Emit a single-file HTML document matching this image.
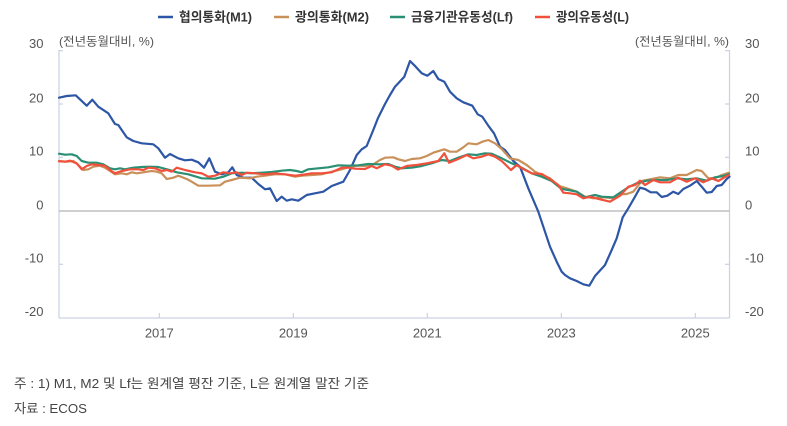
<!DOCTYPE html>
<html><head><meta charset="utf-8"><style>
html,body{margin:0;padding:0;background:#fff;}
svg{display:block;}
text{font-family:"Liberation Sans","Noto Sans CJK KR",sans-serif;}
</style></head><body>
<svg width="787" height="426" viewBox="0 0 787 426" xmlns="http://www.w3.org/2000/svg">
<rect width="787" height="426" fill="#fff"/>
<!-- legend -->
<g font-size="13" font-weight="bold" fill="#333">
<line x1="158" y1="17" x2="173" y2="17" stroke="#2d56a6" stroke-width="2.5"/>
<text x="179" y="21.5" textLength="73" lengthAdjust="spacingAndGlyphs">협의통화(M1)</text>
<line x1="274" y1="17" x2="289" y2="17" stroke="#c9905a" stroke-width="2.5"/>
<text x="295" y="21.5" textLength="74" lengthAdjust="spacingAndGlyphs">광의통화(M2)</text>
<line x1="390" y1="17" x2="405" y2="17" stroke="#2a8f73" stroke-width="2.5"/>
<text x="411" y="21.5" textLength="102" lengthAdjust="spacingAndGlyphs">금융기관유동성(Lf)</text>
<line x1="535" y1="17" x2="550" y2="17" stroke="#f0503c" stroke-width="2.5"/>
<text x="556" y="21.5" textLength="73" lengthAdjust="spacingAndGlyphs">광의유동성(L)</text>
</g>
<!-- unit labels -->
<g font-size="12" fill="#555">
<text x="59" y="45.5" textLength="95" lengthAdjust="spacingAndGlyphs">(전년동월대비, %)</text>
<text x="635" y="45.5" textLength="94" lengthAdjust="spacingAndGlyphs">(전년동월대비, %)</text>
</g>
<!-- axes -->
<g stroke="#c9d2e3" stroke-width="1.2" fill="none">
<line x1="59" y1="50" x2="59" y2="318"/>
<line x1="729.5" y1="50" x2="729.5" y2="318"/>
<line x1="59" y1="318" x2="729.5" y2="318"/>
<line x1="59" y1="50.7" x2="63" y2="50.7"/>
<line x1="59" y1="104" x2="63" y2="104"/>
<line x1="59" y1="157.3" x2="63" y2="157.3"/>
<line x1="59" y1="264.3" x2="63" y2="264.3"/>
<line x1="725" y1="50.7" x2="729.5" y2="50.7"/>
<line x1="725" y1="104" x2="729.5" y2="104"/>
<line x1="725" y1="157.3" x2="729.5" y2="157.3"/>
<line x1="725" y1="264.3" x2="729.5" y2="264.3"/>
<line x1="159.3" y1="313" x2="159.3" y2="318"/>
<line x1="293.3" y1="313" x2="293.3" y2="318"/>
<line x1="427.3" y1="313" x2="427.3" y2="318"/>
<line x1="561.3" y1="313" x2="561.3" y2="318"/>
<line x1="695.3" y1="313" x2="695.3" y2="318"/>
</g>
<line x1="59" y1="211" x2="729.5" y2="211" stroke="#b5b5b5" stroke-width="1.2"/>
<!-- y labels -->
<g font-size="13" fill="#555" text-anchor="end">
<text x="43.5" y="48">30</text>
<text x="43.5" y="102.5">20</text>
<text x="43.5" y="155.5">10</text>
<text x="43.5" y="209.5">0</text>
<text x="43.5" y="262.5">-10</text>
<text x="43.5" y="316">-20</text>
</g>
<g font-size="13" fill="#555" text-anchor="start">
<text x="745" y="48">30</text>
<text x="745" y="102.5">20</text>
<text x="745" y="155.5">10</text>
<text x="745" y="209.5">0</text>
<text x="745" y="262.5">-10</text>
<text x="745" y="316">-20</text>
</g>
<!-- x labels -->
<g font-size="13" fill="#555" text-anchor="middle">
<text x="159.3" y="337.5">2017</text>
<text x="293.3" y="337.5">2019</text>
<text x="427.3" y="337.5">2021</text>
<text x="561.3" y="337.5">2023</text>
<text x="695.3" y="337.5">2025</text>
</g>
<!-- series -->
<g fill="none" stroke-width="2.2" stroke-linejoin="round" stroke-linecap="round">
<polyline stroke="#2d56a6" points="59,97.7 66.7,96 75.7,95.3 86.7,105.7 92.3,99.7 98.3,106.7 108.3,113.3 115,124 118.3,125 126.7,137.3 133.3,141 141.7,143.3 153.3,144.3 158.3,148.3 165,157.7 170,154 178.3,158.3 185,160.3 191.7,159.7 198.3,162.3 204,167.7 209.3,158.3 215,171.7 221.7,174.3 228.3,172.3 232.3,167.3 236.7,175 243.3,177.7 251.7,177.7 258.3,184 265,189.3 270,188.3 276.7,201 281.7,196.7 286.7,200.7 291.7,199.3 298.3,200.7 306.7,195 315,193.3 323.3,191.7 331.7,186 343.3,181.7 350,170 356.7,155 361.7,149.3 366.7,146 373.3,130 378,118 385,104 390,95 395,86.7 404.3,76.7 410,61 415.7,66.7 421.7,73.3 427.3,75.7 433.3,71 438.3,79 444.3,81.7 450,91.7 456.7,98.3 463.3,102.3 472.3,105.7 477.7,114.3 482.3,116.7 488.3,125.7 494,133.3 500,146.7 505,150 513.3,161 520,166.7 528.3,188.3 538.3,211.7 550,246.7 556.7,261.7 561.7,271.7 565,275 570,278.3 576.7,281 583.3,284.3 589.3,285.7 595,276 605,265 611.7,250 616.7,238.3 622.7,217.3 628.3,208.3 635,196.7 640,187.7 645,189 650.7,192.3 656.7,192.3 661.7,197 667.3,195.7 673.3,191.7 678.3,194 683.3,189 690,185.7 696.7,181 701.7,186.7 706.7,192.7 711.7,192 716.7,186 721.7,185 726.7,179 729.5,176.7"/>
<polyline stroke="#c9905a" points="59,161 66.7,161.7 73.3,161 78.3,165 83.3,170 88.3,169.3 93.3,166.7 100,165.7 105,167.7 110,171 115,174.3 121.7,173.3 126.7,174.3 131.7,172.3 136.7,173.3 143.3,172.3 151.7,171 156.7,171.7 161.7,173.3 166.7,179 173.3,177.7 178.3,175.7 186.7,179 191.7,181.7 198.3,185.7 208.3,185.7 220,185.3 225,181.7 231.7,180 240,177.7 250,178.3 256.7,176.7 265,175.7 275,174.3 285,174.3 295,176.7 301.7,175.7 311.7,175 321.7,174.3 331.7,171.7 341.7,169.3 350,166.7 358.3,165.7 365,166 373.3,164.3 380,160 385,157.7 393.3,157.3 398.3,159.3 405,161 411.7,159 420,158.3 426.7,156 433.3,152.7 444.3,149.3 450,151.7 456.7,151.7 463.3,147.3 468.3,143.3 476.7,144.3 482.3,141.7 488.3,140 495,143.3 501.7,149 510,158.3 518.3,160 526.7,165 535,171.7 543.3,175.7 550,178.3 558.3,185.7 566.7,188.3 576.7,191.7 585,196.7 593.3,198.3 603.3,197.3 613.3,198.3 621.7,194.3 626.7,194 633.3,191.7 641.7,181 650,179.3 660,177.3 670,178.3 678.3,175 686.7,175 696.7,170 701.7,171 708.3,178.3 715,178.3 721.7,175 729,172.7"/>
<polyline stroke="#2a8f73" points="59,153.7 65,154.7 71.7,154.3 76.7,156 81.7,161 88.3,162.7 96.7,162.7 103.3,164.3 110,168.3 115,169.3 120,168.3 125,169.3 133.3,167.7 141.7,167 150,166.7 158.3,167 168.3,169.7 176.7,172.3 188.3,174.3 201.7,178.3 215,178.7 223.3,176.7 231.7,173.3 241.7,172.7 251.7,173.3 261.7,172.7 271.7,172 281.7,170.7 290,170 296.7,171 301.7,172.3 308.3,169.3 318.3,168.3 328.3,167.3 338.3,165.3 348.3,165.7 358.3,165.3 368.3,164 378.3,164.3 388.3,164 395,166.7 401.7,168.3 411.7,167.7 421.7,166 431.7,163.3 441.7,160 450,161 458.3,157.7 468.3,154.3 476.7,155 485,153.3 491.7,153.7 501.7,158.3 511.7,163.3 521.7,167.7 531.7,173.3 541.7,176.7 551.7,181 561.7,189 568.3,190 576.7,191.7 585,197.3 595,195 601.7,196.7 613.3,197.3 621.7,191.7 628.3,187.3 636.7,183.3 646.7,180.7 656.7,180 666.7,180 676.7,178.3 686.7,179.3 696.7,178.3 706.7,180.7 715,177.3 723.3,176 729,174"/>
<polyline stroke="#f0503c" points="59,161.3 65,161.7 70,160.7 76.7,163.3 81.7,169.3 86.7,166 91.7,164.3 98.3,165 105,165.7 110,170 115,173.3 121.7,171 130,169.3 138.3,169.3 143.3,170 148.3,167.7 155,168.3 161.7,171 166.7,170 171.7,171.7 176.7,167.7 185,170 195,172.3 201.7,173.3 208.3,176.7 215,175.7 223.3,172.3 230,173.3 236.7,172.3 241.7,175 246.7,172.7 255,173.3 265,174.3 275,173.3 285,174.3 295,175.7 301.7,175 311.7,173.3 321.7,173.3 331.7,172.3 341.7,167.7 348.3,167.7 355,168.7 365,169 371.7,166 376.7,168.3 385,164.3 391.7,165.7 398,169.5 406.7,166 416.7,165 426.7,163.3 438.3,161 444.3,153.3 449,162.7 458.3,159 466.7,155 473.3,158.3 481.7,156.7 488.3,154.3 495,156.7 501.7,161 511,170 516.7,165 523.3,169 531.7,173.3 541.7,174 550,179 558.3,185 563.3,192.7 570,193.3 576.7,194.3 583.3,198.3 590,196.7 600,199.3 610,201.7 620,195.7 628.3,186.7 635,185 640,180.7 645,185 653.3,180 660,182.3 670,182.3 678.3,177.7 686.7,181.7 695,178.3 703.3,182.3 711.7,178.3 718.3,181 726.7,176 729,175"/>
</g>
<!-- footnote -->
<g font-size="13" fill="#444">
<text x="14" y="388" textLength="355" lengthAdjust="spacingAndGlyphs">주 : 1) M1, M2 및 Lf는 원계열 평잔 기준, L은 원계열 말잔 기준</text>
<text x="14" y="413" textLength="73" lengthAdjust="spacingAndGlyphs">자료 : ECOS</text>
</g>
</svg>
</body></html>
